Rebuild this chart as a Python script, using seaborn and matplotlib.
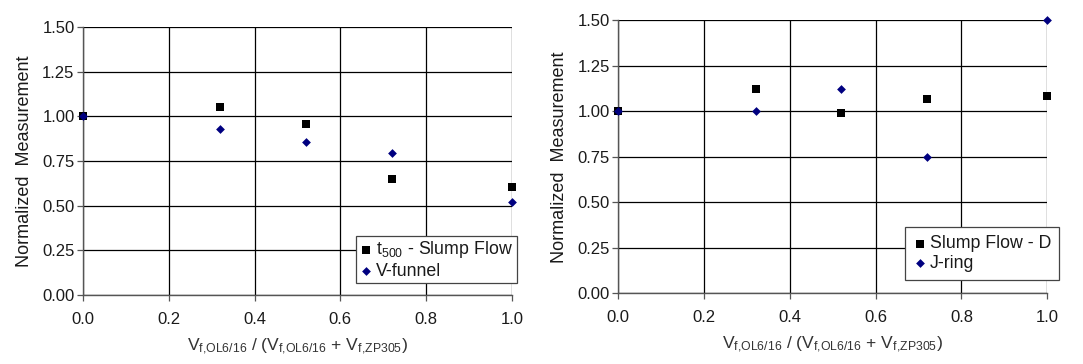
import matplotlib
matplotlib.use("Agg")
import matplotlib.pyplot as plt
import seaborn as sns
import pandas as pd

# Fibre fraction (x) shared by both panels
fiber_ratio = [0.0, 0.32, 0.52, 0.72, 1.0]

# Left panel: flow-time measurements
t500_slump = [1.00, 1.05, 0.955, 0.65, 0.605]
v_funnel = [1.00, 0.93, 0.855, 0.795, 0.52]

# Right panel: spread measurements
slump_d = [1.00, 1.12, 0.99, 1.065, 1.085]
j_ring = [1.00, 1.00, 1.125, 0.75, 1.50]

y_ticks = [0.0, 0.25, 0.5, 0.75, 1.0, 1.25, 1.5]
x_ticks = [0.0, 0.2, 0.4, 0.6, 0.8, 1.0]

sns.set_theme(style="white")
plt.rcParams["font.family"] = ["Liberation Sans", "DejaVu Sans"]
plt.rcParams["mathtext.default"] = "regular"

fig = plt.figure(figsize=(10.83, 3.64), dpi=100)
ax1 = fig.add_axes([0.0766, 0.1896, 0.3961, 0.7362])
ax2 = fig.add_axes([0.5709, 0.1942, 0.3961, 0.7500])

xlabel = r"V$_{f{,}OL6/16}$ / (V$_{f{,}OL6/16}$ + V$_{f{,}ZP305}$)"
navy = "#000080"


def draw_panel(ax, sq_vals, sq_label, dm_vals, dm_label, legend_anchor,
               leg_pad):
    df_sq = pd.DataFrame({"x": fiber_ratio, "y": sq_vals})
    df_dm = pd.DataFrame({"x": fiber_ratio, "y": dm_vals})
    sns.scatterplot(data=df_sq, x="x", y="y", ax=ax, marker="s", s=38,
                    color="black", edgecolor="black", linewidth=0,
                    label=sq_label, clip_on=False, zorder=5)
    sns.scatterplot(data=df_dm, x="x", y="y", ax=ax, marker="D", s=20,
                    color=navy, edgecolor=navy, linewidth=0,
                    label=dm_label, clip_on=False, zorder=6)
    ax.set_xlim(0, 1.0)
    ax.set_ylim(0, 1.5)
    ax.set_xticks(x_ticks)
    ax.set_yticks(y_ticks)
    ax.set_xticklabels([f"{v:.1f}" for v in x_ticks])
    ax.set_yticklabels([f"{v:.2f}" for v in y_ticks])
    ax.grid(True, color="black", linewidth=0.9)
    ax.set_axisbelow(True)
    for side in ("top", "right"):
        ax.spines[side].set_visible(False)
    for side in ("left", "bottom"):
        ax.spines[side].set_color("#555555")
        ax.spines[side].set_linewidth(1.0)
    ax.tick_params(axis="both", which="major", direction="out", length=4,
                   width=0.9, color="#555555", labelsize=12,
                   labelcolor="#1a1a1a", left=True, bottom=True)
    ax.tick_params(axis="x", pad=8)
    ax.tick_params(axis="y", pad=2)
    ax.set_xlabel(xlabel, fontsize=12.6, color="#333333", labelpad=7)
    ax.set_ylabel("Normalized  Measurement", fontsize=13, color="#1a1a1a",
                  labelpad=7)
    leg = ax.legend(loc="upper left", bbox_to_anchor=legend_anchor,
                    bbox_transform=fig.transFigure, frameon=True,
                    fancybox=False, framealpha=1, edgecolor="#444444",
                    fontsize=12.8, handletextpad=0.15, handlelength=0.8,
                    borderpad=leg_pad, labelspacing=0.15, borderaxespad=0)
    leg.get_frame().set_linewidth(0.9)
    for t in leg.get_texts():
        t.set_color("#1a1a1a")


draw_panel(ax1, t500_slump, r"t$_{500}$ - Slump Flow", v_funnel, "V-funnel",
           (0.3284, 0.3525), 0.2)
draw_panel(ax2, slump_d, "Slump Flow - D", j_ring, "J-ring",
           (0.8356, 0.3755), 0.45)

fig.savefig("out.png", dpi=100)
